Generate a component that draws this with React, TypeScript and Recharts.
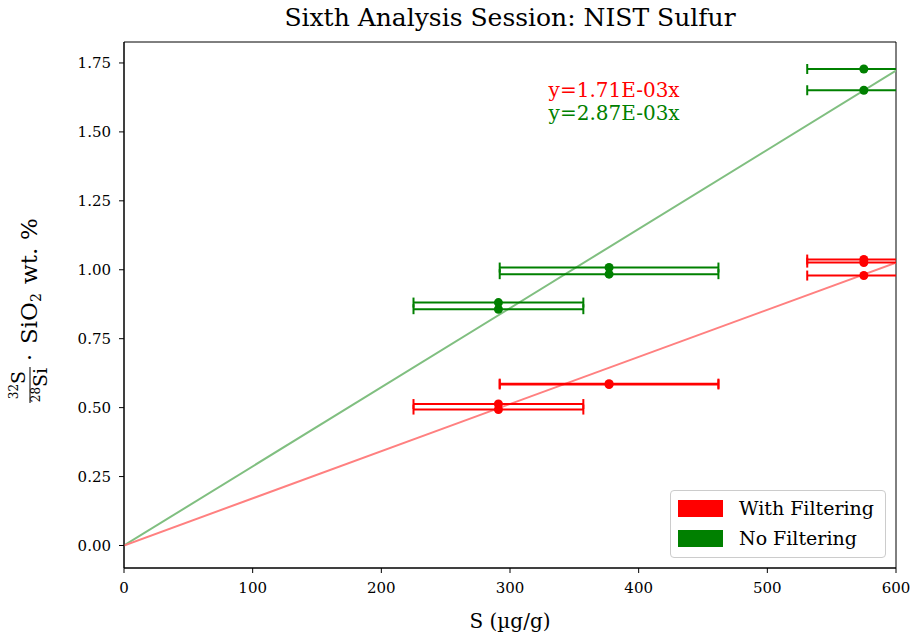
import React from 'react';
import {
  ComposedChart,
  Scatter,
  Line,
  XAxis,
  YAxis,
  ZAxis,
  ErrorBar,
  Legend,
  Label,
  ReferenceDot,
  ReferenceArea,
} from 'recharts';

const FONT = '"DejaVu Serif", serif';
const RED = '#ff0000';
const GREEN = '#008000';

// With Filtering (red)
const filteredX = [291, 291, 377, 377, 575, 575, 575];
const filteredY = [0.513, 0.493, 0.587, 0.584, 1.037, 1.026, 0.979];
const filteredErr = [66, 66, 85, 85, 44, 44, 44];

// No Filtering (green)
const rawX = [291, 291, 377, 377, 575, 575];
const rawY = [0.881, 0.857, 1.008, 0.984, 1.728, 1.651];
const rawErr = [66, 66, 85, 85, 44, 44];

// fitted lines through origin
const fitX = [0, 600];
const filteredSlope = 1.71e-3;
const rawSlope = 2.87e-3;

const xTicks = [0, 100, 200, 300, 400, 500, 600];
const yTicks = [0, 0.25, 0.5, 0.75, 1.0, 1.25, 1.5, 1.75];
const yDomain = [-0.0816, 1.826];

const legendItems = [
  { name: 'With Filtering', color: RED },
  { name: 'No Filtering', color: GREEN },
];

const filteredData = filteredX.map((x, i) => ({ x, y: filteredY[i], err: filteredErr[i] }));
const rawData = rawX.map((x, i) => ({ x, y: rawY[i], err: rawErr[i] }));
const filteredFit = fitX.map((x) => ({ x, y: x * filteredSlope }));
const rawFit = fitX.map((x) => ({ x, y: x * rawSlope }));

const tickStyle = { fill: '#000', fontSize: 15, fontFamily: FONT };

function YLabel(props: any) {
  const vb = props.viewBox || { x: 64, y: 42, width: 60, height: 526 };
  const cx = vb.x - 34;
  const cy = vb.y + vb.height / 2 + 5;
  return (
    <g transform={`translate(${cx}, ${cy}) rotate(-90)`} fontFamily={FONT} fill="#000">
      <text x={-75} y={-5} fontSize={19} textAnchor="middle">
        <tspan fontSize={12} dy={-7}>32</tspan>
        <tspan dy={7}>S</tspan>
      </text>
      <line x1={-93} x2={-57} y1={0} y2={0} stroke="#000" strokeWidth={1} />
      <text x={-75} y={17} fontSize={19} textAnchor="middle">
        <tspan fontSize={12} dy={-7}>28</tspan>
        <tspan dy={7}>Si</tspan>
      </text>
      <text x={-51} y={7} fontSize={22}>·</text>
      <text x={-34} y={7} fontSize={23}>
        <tspan>SiO</tspan>
        <tspan fontSize={14} dy={4}>2</tspan>
      </text>
      <text x={26} y={7} fontSize={23}>wt.</text>
      <text x={70} y={7} fontSize={23}>%</text>
    </g>
  );
}

function LegendBox() {
  return (
    <div
      style={{
        border: '1px solid #cccccc',
        borderRadius: 4,
        background: 'rgba(255,255,255,0.8)',
        padding: '2px 7px 4px 7px',
        fontFamily: FONT,
        fontSize: 19,
        color: '#000',
        boxSizing: 'border-box',
      }}
    >
      {legendItems.map((item) => (
        <div key={item.name} style={{ display: 'flex', alignItems: 'center', height: 30 }}>
          <span style={{ width: 45, height: 17, background: item.color, marginRight: 16, flex: 'none' }} />
          <span style={{ whiteSpace: 'nowrap' }}>{item.name}</span>
        </div>
      ))}
    </div>
  );
}

export default function App() {
  return (
    <div style={{ position: 'absolute', left: 0, top: 0, width: 912, height: 636, background: '#fff' }}>
      <style>{'.recharts-errorBar { clip-path: url(#plotClip); }'}</style>
      <svg width={0} height={0} style={{ position: 'absolute' }}>
        <defs>
          <clipPath id="plotClip" clipPathUnits="userSpaceOnUse">
            <rect x={124} y={42} width={772} height={526} />
          </clipPath>
        </defs>
      </svg>
      <div
        style={{
          position: 'absolute',
          left: 124,
          width: 772,
          top: 3,
          textAlign: 'center',
          fontFamily: FONT,
          fontSize: 25,
          color: '#000',
        }}
      >
        Sixth Analysis Session: NIST Sulfur
      </div>
      <ComposedChart width={912} height={636} margin={{ top: 42, right: 16, bottom: 0, left: 64 }}>
        <XAxis
          dataKey="x"
          type="number"
          domain={[0, 600]}
          ticks={xTicks}
          allowDataOverflow
          height={68}
          tickSize={5}
          tickMargin={9}
          stroke="#000"
          tick={tickStyle}
        >
          <Label
            value="S (µg/g)"
            position="insideBottom"
            offset={8}
            style={{ fill: '#000', fontSize: 20, fontFamily: FONT }}
          />
        </XAxis>
        <YAxis
          dataKey="y"
          type="number"
          domain={yDomain}
          ticks={yTicks}
          allowDataOverflow
          width={60}
          tickSize={5}
          tickMargin={8}
          stroke="#000"
          tick={tickStyle}
          tickFormatter={(v: number) => v.toFixed(2)}
        >
          <Label content={YLabel} />
        </YAxis>
        <ZAxis range={[64, 64]} />
        <ReferenceArea x1={0} x2={600} y1={yDomain[0]} y2={yDomain[1]} fill="none" stroke="#000" strokeWidth={1} fillOpacity={0} />
        <Line data={rawFit} dataKey="y" stroke="#80bf80" strokeWidth={2} dot={false} isAnimationActive={false} />
        <Line data={filteredFit} dataKey="y" stroke="#ff8080" strokeWidth={2} dot={false} isAnimationActive={false} />
        <Scatter data={filteredData} fill={RED} shape="circle" isAnimationActive={false}>
          <ErrorBar dataKey="err" direction="x" width={5} strokeWidth={2} stroke={RED} />
        </Scatter>
        <Scatter data={rawData} fill={GREEN} shape="circle" isAnimationActive={false}>
          <ErrorBar dataKey="err" direction="x" width={5} strokeWidth={2} stroke={GREEN} />
        </Scatter>
        <ReferenceDot
          x={330}
          y={1.653}
          r={0}
          fill="none"
          stroke="none"
          label={{ value: 'y=1.71E-03x', position: 'right', offset: 0, fill: RED, fontSize: 20, fontFamily: FONT }}
        />
        <ReferenceDot
          x={330}
          y={1.568}
          r={0}
          fill="none"
          stroke="none"
          label={{ value: 'y=2.87E-03x', position: 'right', offset: 0, fill: GREEN, fontSize: 20, fontFamily: FONT }}
        />
        <Legend
          layout="vertical"
          align="center"
          verticalAlign="middle"
          content={LegendBox}
          wrapperStyle={{ position: 'absolute', left: 670, top: 490, width: 216 }}
        />
      </ComposedChart>
    </div>
  );
}
